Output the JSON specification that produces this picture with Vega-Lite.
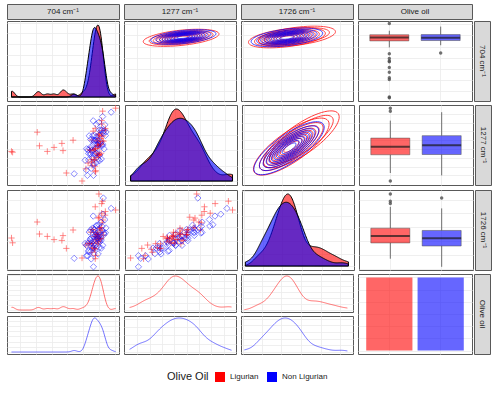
{
"$schema":"https://vega.github.io/schema/vega-lite/v6.json",
"padding":{"left":6,"top":3,"right":0,"bottom":0},
"background":"white",
"config":{
 "font":"Liberation Sans",
 "view":{"stroke":"#595959","strokeWidth":1},
 "axis":{"labels":false,"ticks":false,"domain":false,"grid":true,"gridColor":"#ebebeb","gridWidth":0.8},
 "legend":{"layout":{"bottom":{"anchor":"middle"}}}
},
"datasets":{
"oil":[
{"oil":"Ligurian","x704":67,"x1277":5,"x1726":15},{"oil":"Non Ligurian","x704":77.2,"x1277":12,"x1726":4},
{"oil":"Ligurian","x704":78.8,"x1277":16.6,"x1726":14.1},{"oil":"Non Ligurian","x704":71.8,"x1277":12,"x1726":18},
{"oil":"Ligurian","x704":75.9,"x1277":24.5,"x1726":22.1},{"oil":"Non Ligurian","x704":60,"x1277":14,"x1726":14.6},
{"oil":"Ligurian","x704":70.4,"x1277":20.2,"x1726":31.2},{"oil":"Non Ligurian","x704":77.5,"x1277":26.7,"x1726":20.4},
{"oil":"Ligurian","x704":79.2,"x1277":17.9,"x1726":18.3},{"oil":"Non Ligurian","x704":75.2,"x1277":20.7,"x1726":13.8},
{"oil":"Ligurian","x704":75.9,"x1277":28.9,"x1726":28.1},{"oil":"Non Ligurian","x704":71,"x1277":18.5,"x1726":17.8},
{"oil":"Ligurian","x704":78.6,"x1277":23.5,"x1726":25.9},{"oil":"Non Ligurian","x704":82.5,"x1277":30.3,"x1726":28},
{"oil":"Ligurian","x704":75.3,"x1277":31.7,"x1726":32.7},{"oil":"Non Ligurian","x704":72.8,"x1277":31.3,"x1726":22.7},
{"oil":"Ligurian","x704":81.5,"x1277":36.9,"x1726":35.2},{"oil":"Non Ligurian","x704":77.2,"x1277":24.9,"x1726":27.4},
{"oil":"Ligurian","x704":78.2,"x1277":31,"x1726":27.1},{"oil":"Non Ligurian","x704":81.4,"x1277":32.2,"x1726":20},
{"oil":"Ligurian","x704":72.4,"x1277":27.4,"x1726":32.9},{"oil":"Non Ligurian","x704":74.9,"x1277":38.3,"x1726":23.4},
{"oil":"Ligurian","x704":81,"x1277":37.7,"x1726":40.8},{"oil":"Non Ligurian","x704":69.7,"x1277":30.9,"x1726":33.2},
{"oil":"Ligurian","x704":77.6,"x1277":31.7,"x1726":27},{"oil":"Non Ligurian","x704":79.7,"x1277":27.8,"x1726":27.5},
{"oil":"Ligurian","x704":80.2,"x1277":39.4,"x1726":36.2},{"oil":"Non Ligurian","x704":77.2,"x1277":38.9,"x1726":31.8},
{"oil":"Ligurian","x704":76.8,"x1277":44.1,"x1726":33.4},{"oil":"Non Ligurian","x704":72.8,"x1277":39.4,"x1726":24.2},
{"oil":"Ligurian","x704":82.9,"x1277":37.8,"x1726":39.7},{"oil":"Non Ligurian","x704":84.2,"x1277":32.5,"x1726":27.3},
{"oil":"Ligurian","x704":79.5,"x1277":34.1,"x1726":41.9},{"oil":"Non Ligurian","x704":74.5,"x1277":39.4,"x1726":37},
{"oil":"Ligurian","x704":73.6,"x1277":44,"x1726":33.4},{"oil":"Non Ligurian","x704":78.7,"x1277":45.1,"x1726":31.1},
{"oil":"Ligurian","x704":82.2,"x1277":37.9,"x1726":39.1},{"oil":"Non Ligurian","x704":82.9,"x1277":37.6,"x1726":35.4},
{"oil":"Ligurian","x704":78.8,"x1277":45.4,"x1726":46.8},{"oil":"Non Ligurian","x704":76.3,"x1277":34.3,"x1726":27.7},
{"oil":"Ligurian","x704":81.3,"x1277":49.9,"x1726":32.7},{"oil":"Non Ligurian","x704":71.1,"x1277":45.2,"x1726":30.7},
{"oil":"Ligurian","x704":77.9,"x1277":43.6,"x1726":41.8},{"oil":"Non Ligurian","x704":81,"x1277":45.5,"x1726":40.4},
{"oil":"Ligurian","x704":84,"x1277":39.7,"x1726":38.9},{"oil":"Non Ligurian","x704":78.5,"x1277":38.4,"x1726":34.3},
{"oil":"Ligurian","x704":80.6,"x1277":49.6,"x1726":45.2},{"oil":"Non Ligurian","x704":74.2,"x1277":45.3,"x1726":38.6},
{"oil":"Ligurian","x704":74.7,"x1277":43.3,"x1726":47.2},{"oil":"Non Ligurian","x704":85.5,"x1277":50.9,"x1726":30.8},
{"oil":"Ligurian","x704":83.3,"x1277":50.9,"x1726":38.9},{"oil":"Non Ligurian","x704":75.7,"x1277":43.2,"x1726":33.7},
{"oil":"Ligurian","x704":79.8,"x1277":55.4,"x1726":44.4},{"oil":"Non Ligurian","x704":79.9,"x1277":39.7,"x1726":43.3},
{"oil":"Ligurian","x704":82.4,"x1277":49.1,"x1726":52.1},{"oil":"Non Ligurian","x704":84.1,"x1277":50.8,"x1726":37.4},
{"oil":"Ligurian","x704":78.9,"x1277":45.2,"x1726":38},{"oil":"Non Ligurian","x704":77.5,"x1277":50.9,"x1726":41.6},
{"oil":"Ligurian","x704":85.1,"x1277":55.1,"x1726":47.1},{"oil":"Non Ligurian","x704":72.2,"x1277":43.8,"x1726":33.7},
{"oil":"Ligurian","x704":81.6,"x1277":48.8,"x1726":44.2},{"oil":"Non Ligurian","x704":82.3,"x1277":50.6,"x1726":36.7},
{"oil":"Ligurian","x704":75.8,"x1277":56.3,"x1726":50.5},{"oil":"Non Ligurian","x704":79.7,"x1277":56.1,"x1726":46.2},
{"oil":"Ligurian","x704":84.4,"x1277":61,"x1726":52.7},{"oil":"Non Ligurian","x704":75.3,"x1277":48.4,"x1726":40.2},
{"oil":"Ligurian","x704":80.9,"x1277":54.7,"x1726":44.2},{"oil":"Non Ligurian","x704":86.7,"x1277":45.1,"x1726":44.5},
{"oil":"Ligurian","x704":83.5,"x1277":51,"x1726":49.9},{"oil":"Non Ligurian","x704":76.9,"x1277":56,"x1726":36.7},
{"oil":"Ligurian","x704":82,"x1277":64,"x1726":95},{"oil":"Non Ligurian","x704":81.1,"x1277":56.1,"x1726":39.6},
{"oil":"Ligurian","x704":86.2,"x1277":54.8,"x1726":43.6},{"oil":"Non Ligurian","x704":85.2,"x1277":49.1,"x1726":49.2},
{"oil":"Ligurian","x704":82.8,"x1277":62.5,"x1726":52.8},{"oil":"Non Ligurian","x704":78.7,"x1277":56,"x1726":43.3},
{"oil":"Ligurian","x704":77,"x1277":67.3,"x1726":50.2},{"oil":"Non Ligurian","x704":73.4,"x1277":61.5,"x1726":47.4},
{"oil":"Ligurian","x704":85.6,"x1277":61.4,"x1726":62.5},{"oil":"Non Ligurian","x704":83.4,"x1277":54,"x1726":39.7},
{"oil":"Ligurian","x704":82.2,"x1277":57.8,"x1726":66},{"oil":"Non Ligurian","x704":80.8,"x1277":50.5,"x1726":42.7},
{"oil":"Ligurian","x704":84.9,"x1277":68.1,"x1726":58.9},{"oil":"Non Ligurian","x704":76.5,"x1277":61.6,"x1726":52.4},
{"oil":"Ligurian","x704":81.5,"x1277":62.5,"x1726":64.9},{"oil":"Non Ligurian","x704":87.9,"x1277":61.9,"x1726":46.5},
{"oil":"Ligurian","x704":87.8,"x1277":70.7,"x1726":73.1},{"oil":"Non Ligurian","x704":78.1,"x1277":55,"x1726":50.8},
{"oil":"Ligurian","x704":84.5,"x1277":76.1,"x1726":71},{"oil":"Non Ligurian","x704":82.4,"x1277":61.9,"x1726":43.1},
{"oil":"Ligurian","x704":78.8,"x1277":70.9,"x1726":79},{"oil":"Non Ligurian","x704":86.5,"x1277":67.6,"x1726":46.2},
{"oil":"Ligurian","x704":87.6,"x1277":68.6,"x1726":68.5},{"oil":"Non Ligurian","x704":80,"x1277":60.3,"x1726":56},
{"oil":"Ligurian","x704":84.5,"x1277":80.5,"x1726":83},{"oil":"Non Ligurian","x704":74.7,"x1277":57,"x1726":50.1},
{"oil":"Ligurian","x704":97,"x1277":96,"x1726":75},{"oil":"Non Ligurian","x704":84.8,"x1277":68.3,"x1726":54.6},
{"oil":"Ligurian","x704":85.4,"x1277":92.3,"x1726":86},{"oil":"Non Ligurian","x704":82.3,"x1277":68.7,"x1726":47},
{"oil":"Ligurian","x704":4,"x1277":42,"x1726":40},{"oil":"Non Ligurian","x704":78,"x1277":62.2,"x1726":50.4},
{"oil":"Ligurian","x704":5,"x1277":41,"x1726":34},{"oil":"Non Ligurian","x704":86,"x1277":65,"x1726":90},
{"oil":"Ligurian","x704":27,"x1277":66,"x1726":60},{"oil":"Non Ligurian","x704":79.8,"x1277":75.7,"x1726":54.9},
{"oil":"Ligurian","x704":29,"x1277":49,"x1726":45},{"oil":"Non Ligurian","x704":84,"x1277":68.9,"x1726":59.8},
{"oil":"Ligurian","x704":36,"x1277":42,"x1726":42},{"oil":"Non Ligurian","x704":88.4,"x1277":66.3,"x1726":52.6},
{"oil":"Ligurian","x704":42,"x1277":47,"x1726":38},{"oil":"Non Ligurian","x704":82,"x1277":78.5,"x1726":56.6},
{"oil":"Ligurian","x704":49,"x1277":52,"x1726":37},{"oil":"Non Ligurian","x704":77,"x1277":80.3,"x1726":67.4},
{"oil":"Ligurian","x704":50,"x1277":43,"x1726":43},{"oil":"Non Ligurian","x704":87.4,"x1277":75.3,"x1726":63},
{"oil":"Ligurian","x704":53,"x1277":15,"x1726":27},{"oil":"Non Ligurian","x704":85.4,"x1277":85.5,"x1726":69.8},
{"oil":"Ligurian","x704":59,"x1277":56,"x1726":50},{"oil":"Non Ligurian","x704":93,"x1277":91,"x1726":77}
],
"ell":[
{"panel":"p12","oil":"Ligurian","ex":51,"ey":79,"level":1},{"panel":"p12","oil":"Ligurian","ex":51,"ey":79,"level":2},{"panel":"p12","oil":"Ligurian","ex":51,"ey":79,"level":3},{"panel":"p12","oil":"Ligurian","ex":51,"ey":79,"level":4},{"panel":"p12","oil":"Ligurian","ex":51,"ey":79,"level":5},{"panel":"p12","oil":"Ligurian","ex":51,"ey":79,"level":6},{"panel":"p12","oil":"Ligurian","ex":51,"ey":79,"level":7},{"panel":"p12","oil":"Ligurian","ex":51,"ey":79,"level":8},{"panel":"p12","oil":"Ligurian","ex":51,"ey":79,"level":9},{"panel":"p12","oil":"Ligurian","ex":51,"ey":79,"level":10},
{"panel":"p12","oil":"Non Ligurian","ex":53,"ey":80,"level":1},{"panel":"p12","oil":"Non Ligurian","ex":53,"ey":80,"level":2},{"panel":"p12","oil":"Non Ligurian","ex":53,"ey":80,"level":3},{"panel":"p12","oil":"Non Ligurian","ex":53,"ey":80,"level":4},{"panel":"p12","oil":"Non Ligurian","ex":53,"ey":80,"level":5},{"panel":"p12","oil":"Non Ligurian","ex":53,"ey":80,"level":6},{"panel":"p12","oil":"Non Ligurian","ex":53,"ey":80,"level":7},{"panel":"p12","oil":"Non Ligurian","ex":53,"ey":80,"level":8},{"panel":"p12","oil":"Non Ligurian","ex":53,"ey":80,"level":9},{"panel":"p12","oil":"Non Ligurian","ex":53,"ey":80,"level":10},
{"panel":"p13","oil":"Ligurian","ex":41,"ey":79,"level":1},{"panel":"p13","oil":"Ligurian","ex":41,"ey":79,"level":2},{"panel":"p13","oil":"Ligurian","ex":41,"ey":79,"level":3},{"panel":"p13","oil":"Ligurian","ex":41,"ey":79,"level":4},{"panel":"p13","oil":"Ligurian","ex":41,"ey":79,"level":5},{"panel":"p13","oil":"Ligurian","ex":41,"ey":79,"level":6},{"panel":"p13","oil":"Ligurian","ex":41,"ey":79,"level":7},{"panel":"p13","oil":"Ligurian","ex":41,"ey":79,"level":8},{"panel":"p13","oil":"Ligurian","ex":41,"ey":79,"level":9},{"panel":"p13","oil":"Ligurian","ex":41,"ey":79,"level":10},
{"panel":"p13","oil":"Ligurian","ex":50,"ey":81,"level":1},{"panel":"p13","oil":"Ligurian","ex":50,"ey":81,"level":2},
{"panel":"p13","oil":"Non Ligurian","ex":41,"ey":79.5,"level":1},{"panel":"p13","oil":"Non Ligurian","ex":41,"ey":79.5,"level":2},{"panel":"p13","oil":"Non Ligurian","ex":41,"ey":79.5,"level":3},{"panel":"p13","oil":"Non Ligurian","ex":41,"ey":79.5,"level":4},{"panel":"p13","oil":"Non Ligurian","ex":41,"ey":79.5,"level":5},{"panel":"p13","oil":"Non Ligurian","ex":41,"ey":79.5,"level":6},{"panel":"p13","oil":"Non Ligurian","ex":41,"ey":79.5,"level":7},{"panel":"p13","oil":"Non Ligurian","ex":41,"ey":79.5,"level":8},{"panel":"p13","oil":"Non Ligurian","ex":41,"ey":79.5,"level":9},{"panel":"p13","oil":"Non Ligurian","ex":41,"ey":79.5,"level":10},
{"panel":"p23","oil":"Ligurian","ex":44,"ey":48,"level":1},{"panel":"p23","oil":"Ligurian","ex":44,"ey":48,"level":2},{"panel":"p23","oil":"Ligurian","ex":44,"ey":48,"level":3},{"panel":"p23","oil":"Ligurian","ex":44,"ey":48,"level":4},{"panel":"p23","oil":"Ligurian","ex":44,"ey":48,"level":5},{"panel":"p23","oil":"Ligurian","ex":44,"ey":48,"level":6},{"panel":"p23","oil":"Ligurian","ex":44,"ey":48,"level":7},{"panel":"p23","oil":"Ligurian","ex":44,"ey":48,"level":8},{"panel":"p23","oil":"Ligurian","ex":44,"ey":48,"level":9},{"panel":"p23","oil":"Ligurian","ex":44,"ey":48,"level":10},
{"panel":"p23","oil":"Ligurian","ex":53,"ey":57,"level":1},{"panel":"p23","oil":"Ligurian","ex":53,"ey":57,"level":2},
{"panel":"p23","oil":"Non Ligurian","ex":42,"ey":46,"level":1},{"panel":"p23","oil":"Non Ligurian","ex":42,"ey":46,"level":2},{"panel":"p23","oil":"Non Ligurian","ex":42,"ey":46,"level":3},{"panel":"p23","oil":"Non Ligurian","ex":42,"ey":46,"level":4},{"panel":"p23","oil":"Non Ligurian","ex":42,"ey":46,"level":5},{"panel":"p23","oil":"Non Ligurian","ex":42,"ey":46,"level":6},{"panel":"p23","oil":"Non Ligurian","ex":42,"ey":46,"level":7},{"panel":"p23","oil":"Non Ligurian","ex":42,"ey":46,"level":8},{"panel":"p23","oil":"Non Ligurian","ex":42,"ey":46,"level":9},{"panel":"p23","oil":"Non Ligurian","ex":42,"ey":46,"level":10}
]
},
"spacing":1,
"resolve":{"scale":{"size":"independent"},"legend":{"color":"independent"}},
"vconcat":[
 {"spacing":0,"resolve":{"scale":{"size":"independent"}},"vconcat":[
  {"spacing":3,"hconcat":[
   {"width":112,"height":15,"view":{"fill":"#d9d9d9","stroke":"#595959"},"data":{"values":[{"t":"704 cm⁻¹"}]},"mark":{"type":"text","fontSize":8,"color":"#1a1a1a"},"encoding":{"text":{"field":"t","type":"nominal"}}},
   {"width":112,"height":15,"view":{"fill":"#d9d9d9","stroke":"#595959"},"data":{"values":[{"t":"1277 cm⁻¹"}]},"mark":{"type":"text","fontSize":8,"color":"#1a1a1a"},"encoding":{"text":{"field":"t","type":"nominal"}}},
   {"width":112,"height":15,"view":{"fill":"#d9d9d9","stroke":"#595959"},"data":{"values":[{"t":"1726 cm⁻¹"}]},"mark":{"type":"text","fontSize":8,"color":"#1a1a1a"},"encoding":{"text":{"field":"t","type":"nominal"}}},
   {"width":114,"height":15,"view":{"fill":"#d9d9d9","stroke":"#595959"},"data":{"values":[{"t":"Olive oil"}]},"mark":{"type":"text","fontSize":8,"color":"#1a1a1a"},"encoding":{"text":{"field":"t","type":"nominal"}}}
  ]},
  {"spacing":3,"resolve":{"scale":{"size":"independent"}},"hconcat":[
   {"width":112,"height":80,"data":{"name":"oil"},
    "transform":[{"density":"x704","groupby":["oil"],"extent":[4,97],"bandwidth":2.4,"as":["v","d"]}],
    "mark":{"type":"area","fillOpacity":0.6,"stroke":"#000000","strokeWidth":1},
    "encoding":{
     "x":{"field":"v","type":"quantitative","title":null,"scale":{"domain":[0,100]},"axis":{"values":[12,26,40,54,68,82,96]}},
     "y":{"field":"d","type":"quantitative","title":null,"stack":null,"scale":{"nice":false,"padding":4},"axis":{"tickCount":8}},
     "color":{"field":"oil","type":"nominal","scale":{"domain":["Ligurian","Non Ligurian"],"range":["#FF0000","#0000FF"]},"legend":null}}},
   {"width":112,"height":80,"data":{"name":"ell"},
    "transform":[{"filter":{"field":"panel","equal":"p12"}}],
    "resolve":{"scale":{"size":"independent"}},
    "encoding":{
     "x":{"field":"ex","type":"quantitative","title":null,"scale":{"domain":[0,100]},"axis":{"values":[12,23,34,45,56,67,78,89]}},
     "y":{"field":"ey","type":"quantitative","title":null,"scale":{"domain":[0,100]},"axis":{"values":[12,26,40,54,68,82,96]}},
     "color":{"field":"oil","type":"nominal","scale":{"domain":["Ligurian","Non Ligurian"],"range":["#FF0000","#0000FF"]},"legend":null}},
    "layer":[
     {"transform":[{"filter":{"field":"oil","equal":"Ligurian"}}],
      "mark":{"type":"point","clip":true,"shape":"M-1,0C-1,-0.11,-0.552,-0.2,0,-0.2C0.552,-0.2,1,-0.11,1,0C1,0.11,0.552,0.2,0,0.2C-0.552,0.2,-1,0.11,-1,0Z","angle":354,"filled":false,"strokeWidth":0.8,"opacity":0.85},
      "encoding":{"size":{"field":"level","type":"quantitative","scale":{"type":"log","domain":[1,11],"range":[5800,0]},"legend":null}}},
     {"transform":[{"filter":{"field":"oil","equal":"Non Ligurian"}}],
      "mark":{"type":"point","clip":true,"shape":"M-1,0C-1,-0.11,-0.552,-0.2,0,-0.2C0.552,-0.2,1,-0.11,1,0C1,0.11,0.552,0.2,0,0.2C-0.552,0.2,-1,0.11,-1,0Z","angle":354,"filled":false,"strokeWidth":0.8,"opacity":0.85},
      "encoding":{"size":{"field":"level","type":"quantitative","scale":{"type":"log","domain":[1,11],"range":[4300,0]},"legend":null}}}
    ]},
   {"width":112,"height":80,"data":{"name":"ell"},
    "transform":[{"filter":{"field":"panel","equal":"p13"}}],
    "resolve":{"scale":{"size":"independent"}},
    "encoding":{
     "x":{"field":"ex","type":"quantitative","title":null,"scale":{"domain":[0,100]},"axis":{"values":[1.5,18.5,36,53.5,71,88]}},
     "y":{"field":"ey","type":"quantitative","title":null,"scale":{"domain":[0,100]},"axis":{"values":[12,26,40,54,68,82,96]}},
     "color":{"field":"oil","type":"nominal","scale":{"domain":["Ligurian","Non Ligurian"],"range":["#FF0000","#0000FF"]},"legend":null}},
    "layer":[
     {"transform":[{"filter":{"field":"oil","equal":"Ligurian"}}],
      "mark":{"type":"point","clip":true,"shape":"M-1,0C-1,-0.13,-0.552,-0.23,0,-0.23C0.552,-0.23,1,-0.13,1,0C1,0.13,0.552,0.23,0,0.23C-0.552,0.23,-1,0.13,-1,0Z","angle":353,"filled":false,"strokeWidth":0.8,"opacity":0.85},
      "encoding":{"size":{"field":"level","type":"quantitative","scale":{"type":"log","domain":[1,11],"range":[6000,0]},"legend":null}}},
     {"transform":[{"filter":{"field":"oil","equal":"Non Ligurian"}}],
      "mark":{"type":"point","clip":true,"shape":"M-1,0C-1,-0.13,-0.552,-0.23,0,-0.23C0.552,-0.23,1,-0.13,1,0C1,0.13,0.552,0.23,0,0.23C-0.552,0.23,-1,0.13,-1,0Z","angle":353,"filled":false,"strokeWidth":0.8,"opacity":0.85},
      "encoding":{"size":{"field":"level","type":"quantitative","scale":{"type":"log","domain":[1,11],"range":[5200,0]},"legend":null}}}
    ]},
   {"spacing":0,"hconcat":[
    {"width":114,"height":80,"data":{"name":"oil"},
     "encoding":{
      "x":{"field":"oil","type":"nominal","title":null,"scale":{"type":"band","paddingInner":0.1,"paddingOuter":0.16},"axis":{"grid":true}},
      "y":{"field":"x704","type":"quantitative","title":null,"scale":{"domain":[0,100]},"axis":{"values":[12,26,40,54,68,82,96]}}},
     "layer":[
      {"mark":{"type":"boxplot","extent":1.5,"size":39,"ticks":false,"outliers":false,"box":{"fillOpacity":0.6,"stroke":"#4d4d4d","strokeWidth":0.5},"median":{"color":"#1a1a1a","thickness":2},"rule":{"color":"#4d4d4d","strokeWidth":0.8}},
       "encoding":{"color":{"field":"oil","type":"nominal","scale":{"domain":["Ligurian","Non Ligurian"],"range":["#FF0000","#0000FF"]},"legend":null}}},
      {"mark":{"type":"boxplot","extent":1.5,"size":39,"ticks":false,"box":false,"median":false,"rule":false,"outliers":{"color":"#4d4d4d","filled":true,"size":12,"opacity":0.8}}}
     ]},
    {"width":16,"height":80,"view":{"fill":"#d9d9d9","stroke":"#595959"},"data":{"values":[{"t":"704 cm⁻¹"}]},"mark":{"type":"text","angle":90,"fontSize":8,"color":"#1a1a1a"},"encoding":{"text":{"field":"t","type":"nominal"}}}
   ]}
  ]}
 ]},
 {"spacing":3,"resolve":{"scale":{"size":"independent"}},"hconcat":[
  {"width":112,"height":80,"data":{"name":"oil"},
   "mark":{"type":"point","filled":false,"strokeWidth":0.7,"opacity":0.65,"size":40},
   "encoding":{
    "x":{"field":"x704","type":"quantitative","title":null,"scale":{"domain":[0,100]},"axis":{"values":[12,26,40,54,68,82,96]}},
    "y":{"field":"x1277","type":"quantitative","title":null,"scale":{"domain":[0,100]},"axis":{"values":[12,23,34,45,56,67,78,89]}},
    "color":{"field":"oil","type":"nominal","scale":{"domain":["Ligurian","Non Ligurian"],"range":["#FF0000","#0000FF"]},"legend":null},
    "shape":{"field":"oil","type":"nominal","scale":{"domain":["Ligurian","Non Ligurian"],"range":["M-1,0L1,0M0,-1L0,1","diamond"]},"legend":null}}},
  {"width":112,"height":80,"data":{"name":"oil"},
   "transform":[{"density":"x1277","groupby":["oil"],"extent":[5,96],"bandwidth":6,"as":["v","d"]}],
   "mark":{"type":"area","fillOpacity":0.6,"stroke":"#000000","strokeWidth":1},
   "encoding":{
    "x":{"field":"v","type":"quantitative","title":null,"scale":{"domain":[0,100]},"axis":{"values":[12,23,34,45,56,67,78,89]}},
    "y":{"field":"d","type":"quantitative","title":null,"stack":null,"scale":{"nice":false,"padding":4},"axis":{"tickCount":8}},
    "color":{"field":"oil","type":"nominal","scale":{"domain":["Ligurian","Non Ligurian"],"range":["#FF0000","#0000FF"]},"legend":null}}},
  {"width":112,"height":80,"data":{"name":"ell"},
   "transform":[{"filter":{"field":"panel","equal":"p23"}}],
   "resolve":{"scale":{"size":"independent"}},
   "encoding":{
    "x":{"field":"ex","type":"quantitative","title":null,"scale":{"domain":[0,100]},"axis":{"values":[1.5,18.5,36,53.5,71,88]}},
    "y":{"field":"ey","type":"quantitative","title":null,"scale":{"domain":[0,100]},"axis":{"values":[12,23,34,45,56,67,78,89]}},
    "color":{"field":"oil","type":"nominal","scale":{"domain":["Ligurian","Non Ligurian"],"range":["#FF0000","#0000FF"]},"legend":null}},
   "layer":[
    {"transform":[{"filter":{"field":"oil","equal":"Ligurian"}}],
     "mark":{"type":"point","clip":true,"shape":"M-1,0C-1,-0.182,-0.552,-0.33,0,-0.33C0.552,-0.33,1,-0.182,1,0C1,0.182,0.552,0.33,0,0.33C-0.552,0.33,-1,0.182,-1,0Z","angle":325,"filled":false,"strokeWidth":0.8,"opacity":0.85},
     "encoding":{"size":{"field":"level","type":"quantitative","scale":{"type":"log","domain":[1,11],"range":[8100,0]},"legend":null}}},
    {"transform":[{"filter":{"field":"oil","equal":"Non Ligurian"}}],
     "mark":{"type":"point","clip":true,"shape":"M-1,0C-1,-0.182,-0.552,-0.33,0,-0.33C0.552,-0.33,1,-0.182,1,0C1,0.182,0.552,0.33,0,0.33C-0.552,0.33,-1,0.182,-1,0Z","angle":325,"filled":false,"strokeWidth":0.8,"opacity":0.85},
     "encoding":{"size":{"field":"level","type":"quantitative","scale":{"type":"log","domain":[1,11],"range":[7000,0]},"legend":null}}}
   ]},
  {"spacing":0,"hconcat":[
   {"width":114,"height":80,"data":{"name":"oil"},
    "encoding":{
     "x":{"field":"oil","type":"nominal","title":null,"scale":{"type":"band","paddingInner":0.1,"paddingOuter":0.16},"axis":{"grid":true}},
     "y":{"field":"x1277","type":"quantitative","title":null,"scale":{"domain":[0,100]},"axis":{"values":[12,23,34,45,56,67,78,89]}}},
    "layer":[
     {"mark":{"type":"boxplot","extent":1.5,"size":39,"ticks":false,"outliers":false,"box":{"fillOpacity":0.6,"stroke":"#4d4d4d","strokeWidth":0.5},"median":{"color":"#1a1a1a","thickness":2},"rule":{"color":"#4d4d4d","strokeWidth":0.8}},
      "encoding":{"color":{"field":"oil","type":"nominal","scale":{"domain":["Ligurian","Non Ligurian"],"range":["#FF0000","#0000FF"]},"legend":null}}},
     {"mark":{"type":"boxplot","extent":1.5,"size":39,"ticks":false,"box":false,"median":false,"rule":false,"outliers":{"color":"#4d4d4d","filled":true,"size":12,"opacity":0.8}}}
    ]},
   {"width":16,"height":80,"view":{"fill":"#d9d9d9","stroke":"#595959"},"data":{"values":[{"t":"1277 cm⁻¹"}]},"mark":{"type":"text","angle":90,"fontSize":8,"color":"#1a1a1a"},"encoding":{"text":{"field":"t","type":"nominal"}}}
  ]}
 ]},
 {"spacing":3,"hconcat":[
  {"width":112,"height":80,"data":{"name":"oil"},
   "mark":{"type":"point","filled":false,"strokeWidth":0.7,"opacity":0.65,"size":40},
   "encoding":{
    "x":{"field":"x704","type":"quantitative","title":null,"scale":{"domain":[0,100]},"axis":{"values":[12,26,40,54,68,82,96]}},
    "y":{"field":"x1726","type":"quantitative","title":null,"scale":{"domain":[0,100]},"axis":{"values":[1.5,18.5,36,53.5,71,88]}},
    "color":{"field":"oil","type":"nominal","scale":{"domain":["Ligurian","Non Ligurian"],"range":["#FF0000","#0000FF"]},"legend":null},
    "shape":{"field":"oil","type":"nominal","scale":{"domain":["Ligurian","Non Ligurian"],"range":["M-1,0L1,0M0,-1L0,1","diamond"]},"legend":null}}},
  {"width":112,"height":80,"data":{"name":"oil"},
   "mark":{"type":"point","filled":false,"strokeWidth":0.7,"opacity":0.65,"size":40},
   "encoding":{
    "x":{"field":"x1277","type":"quantitative","title":null,"scale":{"domain":[0,100]},"axis":{"values":[12,23,34,45,56,67,78,89]}},
    "y":{"field":"x1726","type":"quantitative","title":null,"scale":{"domain":[0,100]},"axis":{"values":[1.5,18.5,36,53.5,71,88]}},
    "color":{"field":"oil","type":"nominal","scale":{"domain":["Ligurian","Non Ligurian"],"range":["#FF0000","#0000FF"]},"legend":null},
    "shape":{"field":"oil","type":"nominal","scale":{"domain":["Ligurian","Non Ligurian"],"range":["M-1,0L1,0M0,-1L0,1","diamond"]},"legend":null}}},
  {"width":112,"height":80,"data":{"name":"oil"},
   "transform":[{"density":"x1726","groupby":["oil"],"extent":[3,95],"bandwidth":5.5,"as":["v","d"]}],
   "mark":{"type":"area","fillOpacity":0.6,"stroke":"#000000","strokeWidth":1},
   "encoding":{
    "x":{"field":"v","type":"quantitative","title":null,"scale":{"domain":[0,100]},"axis":{"values":[1.5,18.5,36,53.5,71,88]}},
    "y":{"field":"d","type":"quantitative","title":null,"stack":null,"scale":{"nice":false,"padding":4},"axis":{"tickCount":8}},
    "color":{"field":"oil","type":"nominal","scale":{"domain":["Ligurian","Non Ligurian"],"range":["#FF0000","#0000FF"]},"legend":null}}},
  {"spacing":0,"hconcat":[
   {"width":114,"height":80,"data":{"name":"oil"},
    "encoding":{
     "x":{"field":"oil","type":"nominal","title":null,"scale":{"type":"band","paddingInner":0.1,"paddingOuter":0.16},"axis":{"grid":true}},
     "y":{"field":"x1726","type":"quantitative","title":null,"scale":{"domain":[0,100]},"axis":{"values":[1.5,18.5,36,53.5,71,88]}}},
    "layer":[
     {"mark":{"type":"boxplot","extent":1.5,"size":39,"ticks":false,"outliers":false,"box":{"fillOpacity":0.6,"stroke":"#4d4d4d","strokeWidth":0.5},"median":{"color":"#1a1a1a","thickness":2},"rule":{"color":"#4d4d4d","strokeWidth":0.8}},
      "encoding":{"color":{"field":"oil","type":"nominal","scale":{"domain":["Ligurian","Non Ligurian"],"range":["#FF0000","#0000FF"]},"legend":null}}},
     {"mark":{"type":"boxplot","extent":1.5,"size":39,"ticks":false,"box":false,"median":false,"rule":false,"outliers":{"color":"#4d4d4d","filled":true,"size":12,"opacity":0.8}}}
    ]},
   {"width":16,"height":80,"view":{"fill":"#d9d9d9","stroke":"#595959"},"data":{"values":[{"t":"1726 cm⁻¹"}]},"mark":{"type":"text","angle":90,"fontSize":8,"color":"#1a1a1a"},"encoding":{"text":{"field":"t","type":"nominal"}}}
  ]}
 ]},
 {"spacing":3,"hconcat":[
  {"spacing":2,"vconcat":[
   {"width":112,"height":38,"data":{"name":"oil"},
    "transform":[{"filter":{"field":"oil","equal":"Ligurian"}},{"density":"x704","groupby":["oil"],"extent":[4,97],"bandwidth":2.4,"as":["v","d"]}],
    "mark":{"type":"line","strokeWidth":1,"opacity":0.55},
    "encoding":{
     "x":{"field":"v","type":"quantitative","title":null,"scale":{"domain":[0,100]},"axis":{"values":[12,26,40,54,68,82,96]}},
     "y":{"field":"d","type":"quantitative","title":null,"scale":{"nice":false,"padding":2},"axis":{"tickCount":7}},
     "color":{"field":"oil","type":"nominal","scale":{"domain":["Ligurian","Non Ligurian"],"range":["#FF0000","#0000FF"]},"legend":null}}},
   {"width":112,"height":38,"data":{"name":"oil"},
    "transform":[{"filter":{"field":"oil","equal":"Non Ligurian"}},{"density":"x704","groupby":["oil"],"extent":[4,97],"bandwidth":2.4,"as":["v","d"]}],
    "mark":{"type":"line","strokeWidth":1,"opacity":0.55},
    "encoding":{
     "x":{"field":"v","type":"quantitative","title":null,"scale":{"domain":[0,100]},"axis":{"values":[12,26,40,54,68,82,96]}},
     "y":{"field":"d","type":"quantitative","title":null,"scale":{"nice":false,"padding":2},"axis":{"tickCount":7}},
     "color":{"field":"oil","type":"nominal","scale":{"domain":["Ligurian","Non Ligurian"],"range":["#FF0000","#0000FF"]},"legend":null}}}
  ]},
  {"spacing":2,"vconcat":[
   {"width":112,"height":38,"data":{"name":"oil"},
    "transform":[{"filter":{"field":"oil","equal":"Ligurian"}},{"density":"x1277","groupby":["oil"],"extent":[5,96],"bandwidth":6,"as":["v","d"]}],
    "mark":{"type":"line","strokeWidth":1,"opacity":0.55},
    "encoding":{
     "x":{"field":"v","type":"quantitative","title":null,"scale":{"domain":[0,100]},"axis":{"values":[12,23,34,45,56,67,78,89]}},
     "y":{"field":"d","type":"quantitative","title":null,"scale":{"nice":false,"padding":2},"axis":{"tickCount":7}},
     "color":{"field":"oil","type":"nominal","scale":{"domain":["Ligurian","Non Ligurian"],"range":["#FF0000","#0000FF"]},"legend":null}}},
   {"width":112,"height":38,"data":{"name":"oil"},
    "transform":[{"filter":{"field":"oil","equal":"Non Ligurian"}},{"density":"x1277","groupby":["oil"],"extent":[5,96],"bandwidth":6,"as":["v","d"]}],
    "mark":{"type":"line","strokeWidth":1,"opacity":0.55},
    "encoding":{
     "x":{"field":"v","type":"quantitative","title":null,"scale":{"domain":[0,100]},"axis":{"values":[12,23,34,45,56,67,78,89]}},
     "y":{"field":"d","type":"quantitative","title":null,"scale":{"nice":false,"padding":2},"axis":{"tickCount":7}},
     "color":{"field":"oil","type":"nominal","scale":{"domain":["Ligurian","Non Ligurian"],"range":["#FF0000","#0000FF"]},"legend":null}}}
  ]},
  {"spacing":2,"vconcat":[
   {"width":112,"height":38,"data":{"name":"oil"},
    "transform":[{"filter":{"field":"oil","equal":"Ligurian"}},{"density":"x1726","groupby":["oil"],"extent":[3,95],"bandwidth":5.5,"as":["v","d"]}],
    "mark":{"type":"line","strokeWidth":1,"opacity":0.55},
    "encoding":{
     "x":{"field":"v","type":"quantitative","title":null,"scale":{"domain":[0,100]},"axis":{"values":[1.5,18.5,36,53.5,71,88]}},
     "y":{"field":"d","type":"quantitative","title":null,"scale":{"nice":false,"padding":2},"axis":{"tickCount":7}},
     "color":{"field":"oil","type":"nominal","scale":{"domain":["Ligurian","Non Ligurian"],"range":["#FF0000","#0000FF"]},"legend":null}}},
   {"width":112,"height":38,"data":{"name":"oil"},
    "transform":[{"filter":{"field":"oil","equal":"Non Ligurian"}},{"density":"x1726","groupby":["oil"],"extent":[3,95],"bandwidth":5.5,"as":["v","d"]}],
    "mark":{"type":"line","strokeWidth":1,"opacity":0.55},
    "encoding":{
     "x":{"field":"v","type":"quantitative","title":null,"scale":{"domain":[0,100]},"axis":{"values":[1.5,18.5,36,53.5,71,88]}},
     "y":{"field":"d","type":"quantitative","title":null,"scale":{"nice":false,"padding":2},"axis":{"tickCount":7}},
     "color":{"field":"oil","type":"nominal","scale":{"domain":["Ligurian","Non Ligurian"],"range":["#FF0000","#0000FF"]},"legend":null}}}
  ]},
  {"spacing":0,"hconcat":[
   {"width":114,"height":80,"data":{"name":"oil"},
    "mark":{"type":"bar","opacity":0.6},
    "encoding":{
     "x":{"field":"oil","type":"nominal","title":null,"scale":{"paddingInner":0.1,"paddingOuter":0.16},"axis":{"grid":true}},
     "y":{"aggregate":"count","type":"quantitative","title":null,"scale":{"nice":false,"padding":3.5},"axis":{"tickCount":8}},
     "color":{"field":"oil","type":"nominal","scale":{"domain":["Ligurian","Non Ligurian"],"range":["#FF0000","#0000FF"]},"legend":null}}},
   {"width":16,"height":80,"view":{"fill":"#d9d9d9","stroke":"#595959"},"data":{"values":[{"t":"Olive oil"}]},"mark":{"type":"text","angle":90,"fontSize":8,"color":"#1a1a1a"},"encoding":{"text":{"field":"t","type":"nominal"}}}
  ]}
 ]},
 {"width":481,"height":1,"view":{"stroke":null},"data":{"name":"oil"},
  "mark":{"type":"square","opacity":0},
  "encoding":{"color":{"field":"oil","type":"nominal","scale":{"domain":["Ligurian","Non Ligurian"],"range":["#FF0000","#0000FF"]},
   "legend":{"title":"Olive Oil","orient":"bottom","direction":"horizontal","titleOrient":"left","titleFontSize":11,"titleFontWeight":"normal","titleColor":"#1a1a1a","labelFontSize":8,"labelColor":"#1a1a1a","symbolType":"square","symbolSize":100,"symbolOpacity":1,"symbolStrokeWidth":0,"offset":12,"columnPadding":8,"labelOffset":5,"titlePadding":6}}}}
]
}
